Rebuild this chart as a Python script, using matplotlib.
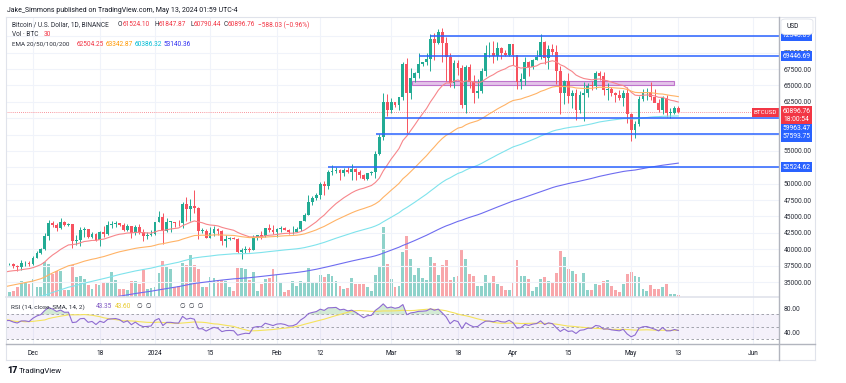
import numpy as np
import pandas as pd
import matplotlib
matplotlib.use("Agg")
import matplotlib.pyplot as plt
import matplotlib.dates as mdates
from matplotlib.patches import Rectangle, FancyBboxPatch
from matplotlib.lines import Line2D

plt.rcParams['font.family'] = ['Roboto', 'DejaVu Sans']

#---- Data -------------------------------------------------------------------#

dates = pd.date_range('2023-11-24', '2024-05-13', freq='D')

opens = [
    37290, 37720, 37800, 37450, 37240, 37830, 37850,                                  # Nov
    37720, 38690, 39470, 39980, 41990, 44080, 43770, 43290, 44170, 43720,
    43790, 41240, 41450, 42890, 43020, 41940, 42280, 41370, 42660, 42260,
    43660, 43860, 43990, 43720, 43010, 43580, 42520, 43440, 42580, 42070, 42140,      # Dec
    42280, 44180, 44950, 42850, 44150, 44160, 43970, 43930, 46970, 46110,
    46630, 46340, 42780, 42840, 41730, 42510, 43150, 42740, 41260, 41620,
    41670, 41550, 39510, 39840, 40080, 39940, 41820, 42120, 42030, 43300, 42940,      # Jan
    42580, 43080, 43190, 42990, 42580, 42660, 43090, 44340, 45290, 47150,
    47770, 48290, 49960, 49700, 51790, 51910, 52160, 51660, 52120, 51780,
    52260, 51850, 51320, 50730, 51570, 51730, 54490, 57050, 62500,                    # Feb
    61200, 62430, 62030, 63170, 68300, 63800, 66110, 66930, 68300, 68500,
    69020, 72120, 71480, 73080, 71400, 69400, 65300, 68400, 67610, 61940,
    67840, 65500, 63800, 64200, 67210, 69880, 69990, 69450, 70740, 69890, 69650,      # Mar
    71330, 69700, 65460, 65960, 68500, 67840, 68900, 69360, 71620, 69140,
    70590, 70060, 67120, 63890, 65670, 63410, 63790, 61280, 63470, 63820,
    64940, 64920, 66840, 66400, 64290, 64500, 63770, 63460, 63120, 63840,             # Apr
    60640, 58250, 59120, 62890, 63890, 64030, 63160, 62330, 61190, 63070,
    60790, 60830, 61524.10,                                                           # May
]
highs = [
    38420, 37890, 37830, 37560, 38380, 38150, 38150,
    38950, 39680, 40200, 42420, 44490, 44290, 44040, 44700, 44370, 44040,
    43810, 42100, 43430, 43400, 43090, 42700, 42430, 42760, 43500, 44280,
    44240, 44370, 44000, 43950, 43800, 43600, 43680, 43800, 43120, 42610, 42900,
    44200, 45900, 45500, 44770, 44340, 44230, 44500, 47250, 47900, 47700,
    48970, 46500, 43250, 43080, 43400, 43580, 43200, 42930, 42200, 41850,
    41870, 41680, 40130, 40550, 40300, 42210, 42200, 42840, 43300, 43880, 43750,
    43280, 43480, 43380, 43120, 43540, 43400, 44380, 45600, 48200, 48170,
    48590, 50330, 50370, 52040, 52820, 52570, 52200, 52360, 52490, 52980,
    52370, 52050, 51550, 51680, 51960, 54940, 57550, 63900, 63680,
    63120, 62500, 63230, 68500, 69170, 67640, 67000, 69960, 68600, 69930,
    72800, 72950, 73650, 73780, 72400, 70000, 68850, 68920, 68120, 68100,
    68240, 66650, 65970, 67620, 71150, 71560, 71730, 71550, 70910, 70350, 71370,
    71340, 69710, 66900, 69290, 68720, 69000, 70330, 72800, 71760, 71170,
    71260, 71230, 67930, 65840, 66880, 64350, 64470, 64120, 65450, 65420,
    65700, 67230, 67200, 67070, 65300, 64790, 63920, 64370, 64230, 64730,
    60780, 59600, 63320, 64500, 64640, 65500, 64400, 62990, 63400, 63470,
    61480, 61850, 61847.87,
]
lows = [
    37250, 37600, 37150, 36750, 36870, 37500, 37500,
    37600, 38640, 39280, 39960, 41420, 43390, 42820, 43080, 43580, 43570,
    40220, 40680, 40550, 41820, 41660, 41680, 41250, 40530, 41800, 42210,
    43300, 43420, 43590, 42760, 42720, 41680, 42100, 42300, 41300, 41520, 41970,
    42180, 44150, 40750, 42630, 42630, 43420, 43580, 43180, 44350, 44300,
    45600, 41500, 42440, 41720, 41720, 42050, 42200, 40680, 40280, 41440,
    41500, 39430, 38550, 39480, 39550, 39820, 41390, 41620, 41800, 42680, 42280,
    41880, 42570, 42880, 42260, 42260, 42570, 42780, 44330, 45240, 46800,
    47540, 47710, 48300, 49260, 51280, 51580, 50630, 51160, 51680, 50520,
    50620, 50930, 50520, 50580, 51280, 50900, 54450, 56700, 60360,
    60800, 61660, 61320, 62800, 57700, 62850, 65550, 66130, 67950, 68100,
    67200, 68800, 71330, 68600, 65600, 64780, 64550, 66600, 61550, 60780,
    64530, 62260, 63000, 63790, 66380, 69280, 68380, 68900, 69080, 69560, 69560,
    68100, 64490, 64500, 65060, 66500, 67450, 68870, 69040, 68210, 67520,
    69570, 65250, 60660, 62130, 62300, 61620, 59770, 60800, 59600, 63170,
    64240, 64500, 65850, 63600, 62790, 63320, 62400, 62800, 61800, 59190,
    56550, 56940, 58850, 62600, 62830, 62700, 62500, 60880, 60650, 60190,
    60080, 60630, 60790.44,
]
closes = [
    37720, 37800, 37450, 37240, 37830, 37850, 37720,
    38690, 39470, 39980, 41990, 44080, 43770, 43290, 44170, 43720, 43790,
    41240, 41450, 42890, 43020, 41940, 42280, 41370, 42660, 42260, 43660,
    43860, 43990, 43720, 43010, 43580, 42520, 43440, 42580, 42070, 42140, 42280,
    44180, 44950, 42850, 44150, 44160, 43970, 43930, 46970, 46110, 46630,
    46340, 42780, 42840, 41730, 42510, 43150, 42740, 41260, 41620, 41670,
    41550, 39510, 39840, 40080, 39940, 41820, 42120, 42030, 43300, 42940, 42580,
    43080, 43190, 42990, 42580, 42660, 43090, 44340, 45290, 47150, 47770,
    48290, 49960, 49700, 51790, 51910, 52160, 51660, 52120, 51780, 52260,
    51850, 51320, 50730, 51570, 51730, 54490, 57050, 62500, 61200,
    62430, 62030, 63170, 68300, 63800, 66110, 66930, 68300, 68500, 69020,
    72120, 71480, 73080, 71400, 69400, 65300, 68400, 67610, 61940, 67840,
    65500, 63800, 64200, 67210, 69880, 69990, 69450, 70740, 69890, 69650, 71330,
    69700, 65460, 65960, 68500, 67840, 68900, 69360, 71620, 69140, 70590,
    70060, 67120, 63890, 65670, 63410, 63790, 61280, 63470, 63820, 64940,
    64920, 66840, 66400, 64290, 64500, 63770, 63460, 63120, 63840, 60640,
    58250, 59120, 62890, 63890, 64030, 63160, 62330, 61190, 63070, 60790,
    60830, 61484.79, 60896.76,
]
volumes = [
    15.7, 5, 6.3, 10, 16, 14.3, 13.3,
    17.7, 10, 10, 35, 33, 23, 25.7, 25.7, 7.3, 7.3, 31.7, 20, 21, 18.3, 12.3, 8.3,
    12.7, 11.7, 15, 14.3, 25, 16.7, 8.3, 8.3, 6.7, 16, 16, 12.7, 27.3, 8.3, 9,
    10, 24, 36, 30.7, 28.3, 10, 10.7, 34.3, 32.3, 42.3, 32.3, 28.3, 10, 10, 20,
    19, 16.7, 17.3, 15.7, 10, 6, 29, 29.3, 27.7, 16.7, 25, 6, 13, 17.7, 19, 27.7,
    21.7, 14.3, 5, 7.3, 15.7, 11, 16, 14.3, 29, 15, 15, 21.7, 20, 23.3, 21, 15.7,
    10.7, 8.3, 9.3, 19.3, 12.7, 12.7, 13.3, 10, 5.7, 22.3, 31, 69.7, 33.3,
    18.3, 10, 10.7, 45, 60.7, 37.7, 21.7, 29, 19.3, 16.7, 40, 34.3, 22.3, 31.7,
    36.7, 16.7, 20, 21, 47.3, 38.3, 23.3, 21, 11, 11, 22.3, 14.3, 21, 12.7, 10.7,
    6.7, 6.7,
    14.3, 36.7, 20.7, 20.7, 18.3, 6, 10, 17.7, 20, 16, 15, 24, 45.7, 40, 27.7,
    25.7, 22.7, 15, 24.3, 6.7, 6.7, 13.3, 11.7, 15.7, 16.7, 11, 6.7, 5, 12.7, 22.7,
    25, 21, 20, 8.3, 5.7, 11.7, 8.3, 8.3, 10, 12.7, 2.7, 2.7, 2.0,
]
# closes before the first visible bar, only used to start the RSI
warmup_closes = [
    34150, 33910, 33910, 34090, 34540, 34500, 34650, 35420, 34940, 34730,
    35080, 35050, 35040, 35420, 35630, 36700, 37320, 37140, 37070, 36490,
    35550, 37880, 36160, 36600, 36570, 37360, 37450, 35750, 37420, 37290,
]

ema_lengths = [20, 50, 100, 200]
ema_seeds = [36400, 34150, 31600, 29800]          # EMA values at the left edge
ema_colors = ['#F7868B', '#FFB366', '#7FE3EC', '#6E6CF0']
ema_text_colors = ['#F23645', '#FF9800', '#00BCD4', '#2E2EF0']
ema_last = ['62504.25', '63342.87', '60386.32', '53140.36']

level_prices = [72546.89, 69446.69, 59963.47, 57593.75, 52524.62]
level_starts = ['2024-03-11', '2024-03-08', '2024-02-28 12:00',
                '2024-02-26 06:00', '2024-02-14']
level_tag_shift = [0, 0, -9.8, -3.0, 0]           # tags pushed apart on the axis (px)
zone_low, zone_high = 65040, 65700
zone_start, zone_end = '2024-03-06 06:00', '2024-05-11 22:00'

tick_dates = ['2023-12-01', '2023-12-18', '2024-01-01', '2024-01-15',
              '2024-02-01', '2024-02-12', '2024-03-01', '2024-03-18',
              '2024-04-01', '2024-04-15', '2024-05-01', '2024-05-13',
              '2024-06-01']
tick_labels = ['Dec', '18', '2024', '15', 'Feb', '12', 'Mar', '18', 'Apr',
               '15', 'May', '13', 'Jun']
price_ticks = [35000, 37500, 40000, 42500, 45000, 47500, 50000, 52500, 55000,
               57500, 60000, 62500, 65000, 67500, 70000, 72500]
hidden_ticks = [52500, 57500, 60000, 72500]       # covered by the price tags

#---- Colours / layout -------------------------------------------------------#

UP, DOWN = '#22AB94', '#F7525F'
UP_VOL, DOWN_VOL = '#8FD2CA', '#F8A7AB'
TXT = '#131722'
GRID = '#F0F3FA'
W, H = 846, 383
PANE_L, PANE_R = 6, 779
MAIN_T, MAIN_B = 17, 297
RSI_T, RSI_B = 297, 344


def fx(px):
    return px / W


def fy(py):
    return 1 - py / H


def box(x0, y0, x1, y1):
    return [fx(x0), fy(y1), (x1 - x0) / W, (y1 - y0) / H]


#---- Indicators -------------------------------------------------------------#

o = np.array(opens, float)
h = np.array(highs, float)
l = np.array(lows, float)
c = np.array(closes, float)
v = np.array(volumes, float)
x = mdates.date2num(dates)

emas = []
for n, seed in zip(ema_lengths, ema_seeds):
    a = 2.0 / (n + 1)
    e, out = seed, []
    for val in c:
        e = e + a * (val - e)
        out.append(e)
    emas.append(np.array(out))

all_c = np.array(warmup_closes + closes, float)
delta = np.diff(all_c)
gain = np.clip(delta, 0, None)
loss = np.clip(-delta, 0, None)
rsi_full = np.full(len(all_c), np.nan)
ag, al = gain[:14].mean(), loss[:14].mean()
rsi_full[14] = 100 - 100 / (1 + ag / al)
for i in range(15, len(all_c)):
    ag = (ag * 13 + gain[i - 1]) / 14
    al = (al * 13 + loss[i - 1]) / 14
    rsi_full[i] = 100 - 100 / (1 + ag / al)
rsi_ma_full = pd.Series(rsi_full).rolling(14).mean().values
nw = len(warmup_closes)
rsi = rsi_full[nw:]
rsi_ma = rsi_ma_full[nw:]

#---- Figure -----------------------------------------------------------------#

fig = plt.figure(figsize=(W / 100, H / 100), dpi=100)
fig.patch.set_facecolor('white')

ax = fig.add_axes(box(PANE_L, MAIN_T, PANE_R, MAIN_B))
axv = ax.twinx()
axv.set_zorder(ax.get_zorder() - 1)
ax.patch.set_visible(False)
axr = fig.add_axes(box(PANE_L, RSI_T, PANE_R, RSI_B), sharex=ax)

dec1 = mdates.date2num(pd.Timestamp('2023-12-01'))
px_day = 3.935
ax.set_xlim(dec1 - (33 - PANE_L) / px_day, dec1 + (PANE_R - 33) / px_day)
ax.set_ylim(32713, 75435)
axv.set_ylim(0, MAIN_B - MAIN_T)
axr.set_ylim(21.5, 98.5)

tick_x = mdates.date2num(pd.to_datetime(tick_dates))
for a_ in (ax, axv, axr):
    for s in a_.spines.values():
        s.set_visible(False)
axv.set_yticks([])
axv.tick_params(axis='x', length=0, labelbottom=False)

# grid
ax.set_xticks(tick_x)
ax.tick_params(axis='x', length=0, labelbottom=False)
ax.grid(True, color=GRID, lw=0.8, zorder=0)
ax.set_axisbelow(True)
axr.grid(True, axis='x', color=GRID, lw=0.8)
axr.set_axisbelow(True)

# price axis
ax.yaxis.tick_right()
ax.set_yticks(price_ticks)
ax.set_yticklabels(['' if p in hidden_ticks else '%.2f' % p for p in price_ticks])
ax.tick_params(axis='y', length=0, pad=3.5, labelsize=4.9, labelcolor='#2A2E39')

# candles
up = c >= o
col = np.where(up, UP, DOWN)
ax.vlines(x, l, h, colors=col, lw=0.7, zorder=3)
ax.bar(x, np.maximum(np.abs(c - o), 90), bottom=np.minimum(o, c), width=0.72,
       color=col, linewidth=0, zorder=4)
axv.bar(x, v, width=0.72, color=np.where(up, UP_VOL, DOWN_VOL), linewidth=0)

for e, colr in zip(emas, ema_colors):
    ax.plot(x, e, color=colr, lw=0.8, zorder=5)

# horizontal levels and zone
right_x = ax.get_xlim()[1]
for p, s in zip(level_prices, level_starts):
    ax.hlines(p, mdates.date2num(pd.Timestamp(s)), right_x, color='#2962FF',
              lw=1.1, zorder=6)
zs = mdates.date2num(pd.Timestamp(zone_start))
ze = mdates.date2num(pd.Timestamp(zone_end))
ax.add_patch(Rectangle((zs, zone_low), ze - zs, zone_high - zone_low,
                       facecolor='#E1BEE7', edgecolor='#BA68C8', lw=0.8,
                       alpha=0.9, zorder=2))

ax.axhline(c[-1], color='#F23645', lw=0.6, ls=(0, (1, 1.5)), alpha=0.7, zorder=2)

# price tags on the axis
ytr = ax.get_yaxis_transform()
for p, dy in zip(level_prices, level_tag_shift):
    ax.annotate('%.2f' % p, xy=(1, p), xycoords=ytr, xytext=(17.5, dy),
                textcoords='offset pixels', ha='center', va='center',
                fontsize=4.9, color='white', annotation_clip=False, zorder=10,
                bbox=dict(boxstyle='square,pad=0.25', fc='#2962FF', ec='none'))
ax.annotate('60896.76\n18:00:54', xy=(1, c[-1]), xycoords=ytr,
            xytext=(17.5, -3.0), textcoords='offset pixels', ha='center',
            va='center', fontsize=4.9, color='white', linespacing=1.1,
            annotation_clip=False, zorder=11,
            bbox=dict(boxstyle='square,pad=0.25', fc='#F23645', ec='none'))
ax.annotate('BTCUSD', xy=(1, c[-1]), xycoords=ytr, xytext=(-13.5, 0),
            textcoords='offset pixels', ha='center', va='center', fontsize=4.5,
            color='white', annotation_clip=False, zorder=11,
            bbox=dict(boxstyle='square,pad=0.3', fc='#F23645', ec='none'))

# RSI pane
axr.axhspan(30, 70, color='#7E57C2', alpha=0.08, lw=0)
for lvl in (70, 50, 30):
    axr.axhline(lvl, color='#9598A1', lw=0.6, ls=(0, (3, 3)))
axr.fill_between(x, rsi, 70, where=rsi > 70, interpolate=True,
                 color='#81C784', alpha=0.35, lw=0)
axr.plot(x, rsi_ma, color='#F5E35C', lw=0.8)
axr.plot(x, rsi, color='#8E6BD1', lw=0.8)
axr.yaxis.tick_right()
axr.set_yticks([40, 80])
axr.set_yticklabels(['40.00', '80.00'])
axr.tick_params(axis='y', length=0, pad=3.5, labelsize=4.9, labelcolor='#2A2E39')
axr.set_xticks(tick_x)
axr.set_xticklabels(tick_labels)
axr.tick_params(axis='x', length=0, pad=4, labelsize=4.7, labelcolor=TXT)

#---- Frame and text ---------------------------------------------------------#


def fline(x0, y0, x1, y1, color, lw):
    fig.add_artist(Line2D([fx(x0), fx(x1)], [fy(y0), fy(y1)],
                          transform=fig.transFigure, color=color, lw=lw))


fline(PANE_L, 17, 815, 17, '#E0E3EB', 0.8)
fline(PANE_L, 360, 815, 360, '#E0E3EB', 0.8)
fline(PANE_L, 17, PANE_L, 360, '#E0E3EB', 0.8)
fline(815, 17, 815, 360, '#E0E3EB', 0.8)
fline(PANE_L, MAIN_B, PANE_R, MAIN_B, '#E0E3EB', 1.2)
fline(PANE_R, 17, PANE_R, 360, '#B2B5BE', 1.0)
fline(PANE_L, RSI_B, 815, RSI_B, '#B2B5BE', 1.0)

fig.add_artist(FancyBboxPatch((fx(781), fy(34.5)), fx(813) - fx(781),
                              fy(19) - fy(34.5),
                              boxstyle='round,pad=0,rounding_size=0.006',
                              transform=fig.transFigure, fc='white',
                              ec='#E0E3EB', lw=0.6, zorder=20))
fig.text(fx(786), fy(26.5), 'USD', fontsize=4.8, color=TXT, va='center',
         zorder=21)


def put(px, py, s, color=TXT, size=4.7, **kw):
    fig.text(fx(px), fy(py), s, fontsize=size, color=color, ha='left',
             va='center', **kw)


put(7, 10, 'Jake_Simmons published on TradingView.com, May 13, 2024 01:59 UTC-4',
    size=5.0)

red = '#F23645'
put(11.5, 25, 'Bitcoin / U.S. Dollar, 1D, BINANCE', color='#2A2E39')
put(118, 25, 'O', '#2A2E39'); put(122.5, 25, '61524.10', red)
put(154, 25, 'H', '#2A2E39'); put(158.3, 25, '61847.87', red)
put(190, 25, 'L', '#2A2E39'); put(193.5, 25, '60790.44', red)
put(223.5, 25, 'C', '#2A2E39'); put(228, 25, '60896.76', red)
put(258, 25, '\u2212588.03 (\u22120.96%)', red)
put(11.5, 34, 'Vol \u00b7 BTC', '#2A2E39'); put(44, 34, '30', red)
put(11.5, 44, 'EMA 20/50/100/200', '#2A2E39', size=4.5)
for xpos, txt, colr in zip([76.5, 105.5, 135, 164], ema_last, ema_text_colors):
    put(xpos, 44, txt, colr)

put(11, 306.7, 'RSI (14, close, SMA, 14, 2)', '#2A2E39', size=4.6)
put(95.5, 306.7, '43.35', '#7E57C2')
put(115, 306.7, '43.60', '#E8C92A')
put(137, 306.7, '\u2205  \u2205', '#2A2E39')
put(180, 306.7, '\u2205  \u2205  \u2205', '#2A2E39')

put(7, 370.5, '17', size=6.5, fontweight='heavy')
put(19, 370.5, 'TradingView', size=5.6)

fig.savefig('out.png', dpi=100, facecolor='white')
